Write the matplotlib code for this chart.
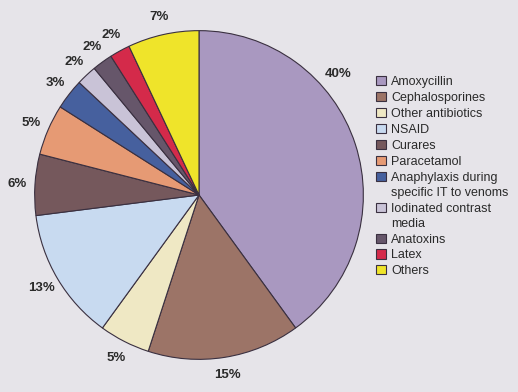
import numpy as np
from matplotlib import pyplot as plt

plt.rcParams["font.family"] = ["Liberation Sans", "DejaVu Sans"]

categories = ["Amoxycillin", "Cephalosporines", "Other antibiotics", "NSAID",
              "Curares", "Paracetamol",
              "Anaphylaxis during\nspecific IT to venoms",
              "Iodinated contrast\nmedia", "Anatoxins", "Latex", "Others"]
shares = [40, 15, 5, 13, 6, 5, 3, 2, 2, 2, 7]
colors = ["#a998c0", "#9c7467", "#efe8c4", "#c8daf0", "#75585c", "#e69a74",
          "#46609e", "#c9c3d7", "#66566a", "#d42a4a", "#efe42a"]

bg = "#e6e4e9"
fig = plt.figure(figsize=(5.18, 3.92), dpi=100, facecolor=bg)
ax = fig.add_axes([33 / 518, 31 / 392, 332 / 518, 332 / 392])
ax.set_facecolor(bg)

wedges, texts = ax.pie(shares, colors=colors, startangle=90, counterclock=False,
                       labels=[f"{v}%" for v in shares], labeldistance=1.11,
                       wedgeprops=dict(edgecolor="#3a3040", linewidth=0.8),
                       textprops=dict(fontsize=9.5, fontweight="bold",
                                      color="#2a2a2a"))
for t in texts:
    t.set_ha("center")
    t.set_va("center")
# the 40% label sits higher up on the rim
a = np.deg2rad(41)
texts[0].set_position((1.12 * np.cos(a), 1.12 * np.sin(a)))

ax.set_xlim(-1.01, 1.01)
ax.set_ylim(-1.01, 1.01)
ax.set_axis_off()

leg = fig.legend(wedges, categories, loc="upper left",
                 bbox_to_anchor=(370 / 518, 1 - 70 / 392), frameon=False,
                 fontsize=9, handlelength=0.75, handleheight=0.75,
                 handletextpad=0.45, labelspacing=0.31, borderpad=0)
for h in leg.legend_handles:
    h.set_linewidth(0.8)
for t in leg.get_texts():
    t.set_color("#2a2a2a")
    t.set_linespacing(1.35)
# markers of two-line entries line up with the first line
for col in leg._legend_handle_box.get_children():
    for row in col.get_children():
        row.align = "top"

fig.savefig("out.png", dpi=100, facecolor=bg)
